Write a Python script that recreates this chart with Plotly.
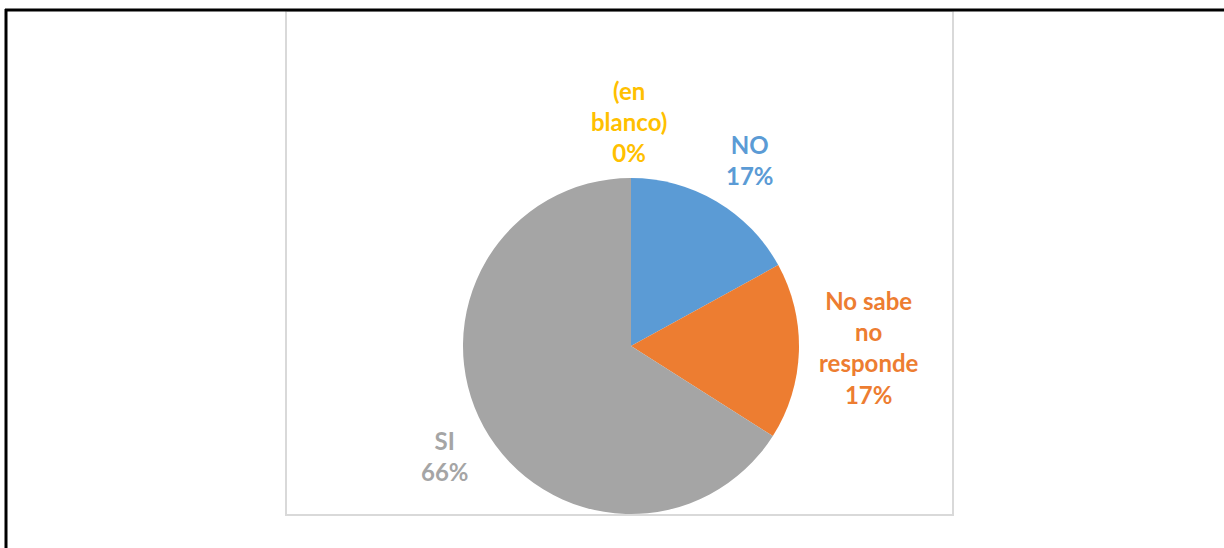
import plotly.graph_objects as go

# Survey answers, in the order they are drawn clockwise from 12 o'clock
categories = ["NO", "No sabe no responde", "SI", "(en blanco)"]
label_lines = ["NO", "No sabe<br>no<br>responde", "SI", "(en<br>blanco)"]
values = [17, 17, 66, 0]
colors = ["#5B9BD5", "#ED7D31", "#A5A5A5", "#FFC000"]

W, H = 1224, 548

# Pie geometry in pixels
cx, cy, r = 631, 346, 168

fig = go.Figure(
    go.Pie(
        labels=categories,
        values=values,
        sort=False,
        direction="clockwise",
        rotation=0,
        marker=dict(colors=colors, line=dict(width=0)),
        textinfo="none",
        hoverinfo="label+percent",
        showlegend=False,
        domain=dict(
            x=[(cx - r) / W, (cx + r) / W],
            y=[(H - cy - r) / H, (H - cy + r) / H],
        ),
    )
)

# Data labels placed around the pie, text taken from the values
total = sum(values)
label_pos = [(750, 160), (869, 347), (445, 456), (629, 121)]
annotations = []
for name, v, col, (lx, ly) in zip(label_lines, values, colors, label_pos):
    pct = round(100 * v / total)
    annotations.append(
        dict(
            x=lx / W,
            y=1 - ly / H,
            xref="paper",
            yref="paper",
            text=f"<b>{name}<br>{pct}%</b>",
            showarrow=False,
            align="center",
            xanchor="center",
            yanchor="middle",
            font=dict(family="Lato", size=24, color=col),
        )
    )

shapes = [
    # chart area border
    dict(type="rect", xref="paper", yref="paper",
         x0=286 / W, x1=953 / W, y0=1 - 515 / H, y1=1 - 11 / H,
         line=dict(color="#D9D9D9", width=2), fillcolor="rgba(0,0,0,0)", layer="below"),
    # outer frame: top and left edges
    dict(type="line", xref="paper", yref="paper",
         x0=5 / W, x1=1.0, y0=1 - 10 / H, y1=1 - 10 / H,
         line=dict(color="black", width=3)),
    dict(type="line", xref="paper", yref="paper",
         x0=6 / W, x1=6 / W, y0=0, y1=1 - 9 / H,
         line=dict(color="black", width=3)),
]

fig.update_layout(
    width=W,
    height=H,
    margin=dict(l=0, r=0, t=0, b=0),
    paper_bgcolor="white",
    plot_bgcolor="white",
    annotations=annotations,
    shapes=shapes,
)

fig.write_html("out.html")
